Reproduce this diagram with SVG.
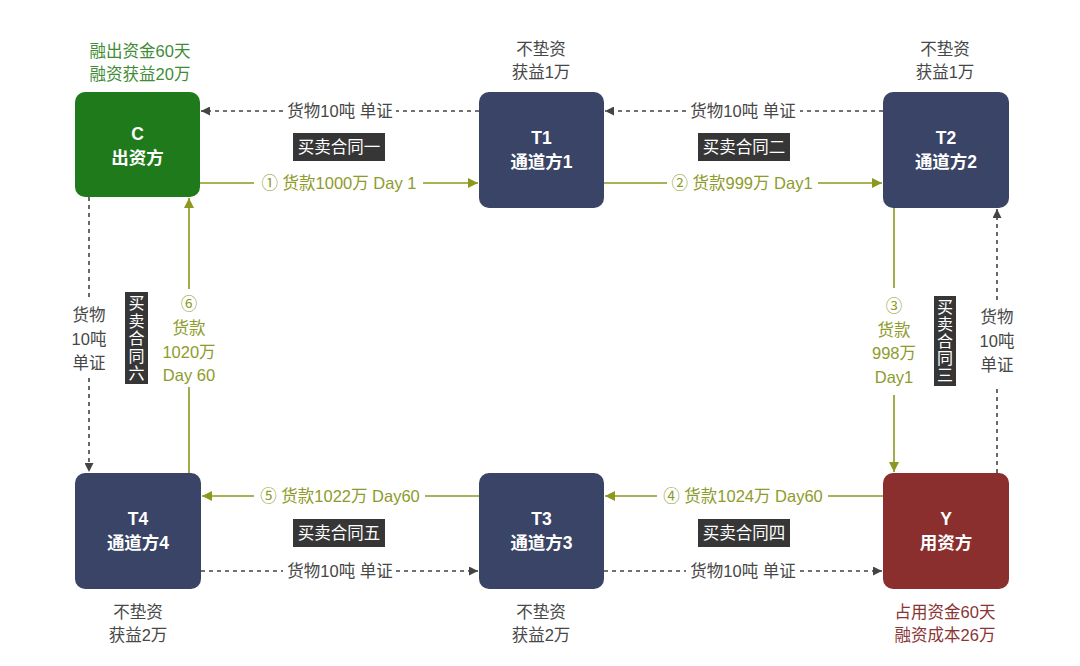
<svg xmlns="http://www.w3.org/2000/svg" width="1080" height="666" viewBox="0 0 1080 666">
<defs>
<style>
text{font-family:"Liberation Sans","Noto Sans CJK SC",sans-serif;}
.nt{fill:#fff;font-size:17.5px;font-weight:bold;text-anchor:middle;}
.lb{font-size:16.5px;text-anchor:middle;fill:#474747;}
.gl{font-size:16.5px;text-anchor:middle;fill:#8e9b2b;}
.tg{font-size:16.5px;text-anchor:middle;fill:#3f8c37;}
.tr{font-size:16.5px;text-anchor:middle;fill:#8a3434;}
.ct{font-size:16.5px;fill:#fff;text-anchor:middle;}
.cv{font-size:16px;fill:#fff;text-anchor:middle;}
.cb{fill:#363636;}
.g{stroke:#8c981f;stroke-width:1.6;fill:none;}
.d{stroke:#444;stroke-width:1.6;stroke-dasharray:4 4;fill:none;}
.navy{fill:#3a4466;}
</style>
<marker id="ag" viewBox="0 0 10 10" refX="10" refY="5" markerWidth="10" markerHeight="10" markerUnits="userSpaceOnUse" orient="auto"><path d="M0,0 L10,5 L0,10 z" fill="#8c981f"/></marker>
<marker id="ad" viewBox="0 0 10 10" refX="10" refY="5" markerWidth="9" markerHeight="9" markerUnits="userSpaceOnUse" orient="auto"><path d="M0,0 L10,5 L0,10 z" fill="#444"/></marker>
</defs>
<rect width="1080" height="666" fill="#fff"/>

<g id="connectors">
<!-- top dotted -->
<line class="d" x1="883" y1="111" x2="800" y2="111"/>
<line class="d" x1="686" y1="111" x2="605" y2="111" marker-end="url(#ad)"/>
<text class="lb" x="743" y="117">货物10吨 单证</text>
<line class="d" x1="479" y1="111" x2="396" y2="111"/>
<line class="d" x1="283" y1="111" x2="201" y2="111" marker-end="url(#ad)"/>
<text class="lb" x="340" y="117">货物10吨 单证</text>
<!-- top green -->
<line class="g" x1="200" y1="183" x2="254" y2="183"/>
<line class="g" x1="423" y1="183" x2="478" y2="183" marker-end="url(#ag)"/>
<text class="gl" x="339" y="189">① 货款1000万 Day 1</text>
<line class="g" x1="604" y1="183" x2="667" y2="183"/>
<line class="g" x1="818" y1="183" x2="882" y2="183" marker-end="url(#ag)"/>
<text class="gl" x="742" y="189">② 货款999万 Day1</text>
<!-- right green -->
<line class="g" x1="894" y1="208" x2="894" y2="288"/>
<line class="g" x1="894" y1="395" x2="894" y2="472" marker-end="url(#ag)"/>
<text class="gl" x="894" y="312">③</text>
<text class="gl" x="894" y="336">货款</text>
<text class="gl" x="894" y="359">998万</text>
<text class="gl" x="894" y="383">Day1</text>
<!-- right dotted -->
<line class="d" x1="997" y1="473" x2="997" y2="385"/>
<line class="d" x1="997" y1="300" x2="997" y2="209" marker-end="url(#ad)"/>
<text class="lb" x="997" y="323">货物</text>
<text class="lb" x="997" y="347">10吨</text>
<text class="lb" x="997" y="371">单证</text>
<!-- bottom green -->
<line class="g" x1="883" y1="496" x2="828" y2="496"/>
<line class="g" x1="657" y1="496" x2="605" y2="496" marker-end="url(#ag)"/>
<text class="gl" x="743" y="502">④ 货款1024万 Day60</text>
<line class="g" x1="479" y1="496" x2="425" y2="496"/>
<line class="g" x1="254" y1="496" x2="202" y2="496" marker-end="url(#ag)"/>
<text class="gl" x="340" y="502">⑤ 货款1022万 Day60</text>
<!-- bottom dotted -->
<line class="d" x1="201" y1="571" x2="283" y2="571"/>
<line class="d" x1="396" y1="571" x2="478" y2="571" marker-end="url(#ad)"/>
<text class="lb" x="340" y="577">货物10吨 单证</text>
<line class="d" x1="604" y1="571" x2="686" y2="571"/>
<line class="d" x1="800" y1="571" x2="882" y2="571" marker-end="url(#ad)"/>
<text class="lb" x="743" y="577">货物10吨 单证</text>
<!-- left dotted -->
<line class="d" x1="89" y1="197" x2="89" y2="298"/>
<line class="d" x1="89" y1="378" x2="89" y2="472" marker-end="url(#ad)"/>
<text class="lb" x="89" y="321">货物</text>
<text class="lb" x="89" y="345">10吨</text>
<text class="lb" x="89" y="369">单证</text>
<!-- left green -->
<line class="g" x1="189" y1="473" x2="189" y2="387"/>
<line class="g" x1="189" y1="289" x2="189" y2="198" marker-end="url(#ag)"/>
<text class="gl" x="189" y="310">⑥</text>
<text class="gl" x="189" y="334">货款</text>
<text class="gl" x="189" y="358">1020万</text>
<text class="gl" x="189" y="381">Day 60</text>
</g>

<g id="contracts">
<rect class="cb" x="293" y="133" width="92" height="28"/>
<text class="ct" x="339" y="153">买卖合同一</text>
<rect class="cb" x="698" y="133" width="92" height="28"/>
<text class="ct" x="744" y="153">买卖合同二</text>
<rect class="cb" x="293" y="519" width="92" height="28"/>
<text class="ct" x="339" y="539">买卖合同五</text>
<rect class="cb" x="698" y="519" width="92" height="28"/>
<text class="ct" x="744" y="539">买卖合同四</text>
<rect class="cb" x="934" y="296" width="22" height="90"/>
<text class="cv" x="945" y="312.5">买</text>
<text class="cv" x="945" y="329.5">卖</text>
<text class="cv" x="945" y="346.5">合</text>
<text class="cv" x="945" y="363.5">同</text>
<text class="cv" x="945" y="380.5">三</text>
<rect class="cb" x="125" y="292" width="23" height="92"/>
<text class="cv" x="136.5" y="309">买</text>
<text class="cv" x="136.5" y="326.5">卖</text>
<text class="cv" x="136.5" y="344">合</text>
<text class="cv" x="136.5" y="361.5">同</text>
<text class="cv" x="136.5" y="379">六</text>
</g>

<g id="node-C">
<rect x="75" y="92" width="125" height="105" rx="10" fill="#1f7a1c"/>
<text class="nt" x="137.5" y="140">C</text>
<text class="nt" x="137.5" y="164">出资方</text>
<text class="tg" x="140" y="57">融出资金60天</text>
<text class="tg" x="140" y="80">融资获益20万</text>
</g>
<g id="node-T1">
<rect class="navy" x="479" y="92" width="125" height="116" rx="10"/>
<text class="nt" x="541.5" y="144">T1</text>
<text class="nt" x="541.5" y="168">通道方1</text>
<text class="lb" x="541" y="55">不垫资</text>
<text class="lb" x="541" y="78">获益1万</text>
</g>
<g id="node-T2">
<rect class="navy" x="883" y="92" width="126" height="116" rx="10"/>
<text class="nt" x="946" y="144">T2</text>
<text class="nt" x="946" y="168">通道方2</text>
<text class="lb" x="945" y="55">不垫资</text>
<text class="lb" x="945" y="78">获益1万</text>
</g>
<g id="node-T4">
<rect class="navy" x="75" y="473" width="126" height="116" rx="10"/>
<text class="nt" x="138" y="525">T4</text>
<text class="nt" x="138" y="549">通道方4</text>
<text class="lb" x="138" y="618">不垫资</text>
<text class="lb" x="138" y="641">获益2万</text>
</g>
<g id="node-T3">
<rect class="navy" x="479" y="473" width="125" height="116" rx="10"/>
<text class="nt" x="541.5" y="525">T3</text>
<text class="nt" x="541.5" y="549">通道方3</text>
<text class="lb" x="541" y="618">不垫资</text>
<text class="lb" x="541" y="641">获益2万</text>
</g>
<g id="node-Y">
<rect x="883" y="473" width="126" height="116" rx="10" fill="#8b2e2e"/>
<text class="nt" x="946" y="525">Y</text>
<text class="nt" x="946" y="549">用资方</text>
<text class="tr" x="945" y="618">占用资金60天</text>
<text class="tr" x="945" y="641">融资成本26万</text>
</g>
</svg>
